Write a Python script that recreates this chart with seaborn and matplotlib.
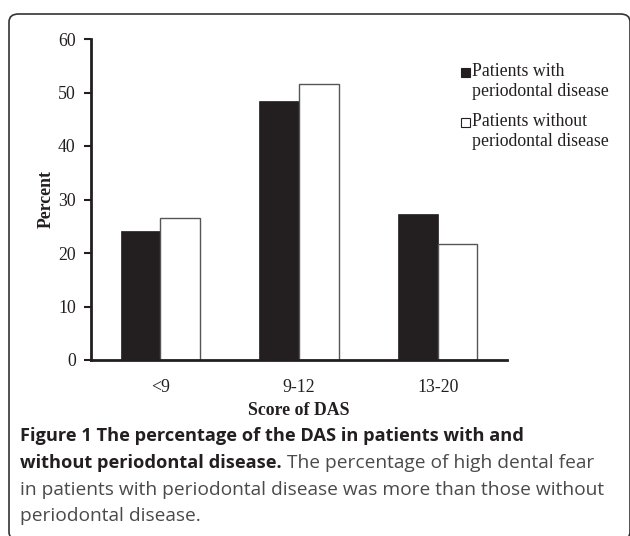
import matplotlib
matplotlib.use("Agg")
import matplotlib.pyplot as plt
import seaborn as sns
import pandas as pd
from matplotlib.patches import FancyBboxPatch, Rectangle

categories = ["<9", "9-12", "13-20"]
with_pd = [24.2, 48.4, 27.3]
without_pd = [26.6, 51.6, 21.7]
series_names = ["Patients with\nperiodontal disease", "Patients without\nperiodontal disease"]
yticks = [0, 10, 20, 30, 40, 50, 60]

df = pd.DataFrame({
    "cat": categories * 2,
    "val": with_pd + without_pd,
    "grp": [series_names[0]] * 3 + [series_names[1]] * 3,
})

sns.set_style("white")
plt.rcParams["font.family"] = ["Liberation Serif", "DejaVu Serif"]

W, H = 630, 536
fig = plt.figure(figsize=(W / 100, H / 100), dpi=100)
ax = fig.add_axes([91 / W, 1 - 360 / H, 416 / W, 321 / H])

dark = "#231f20"
sns.barplot(data=df, x="cat", y="val", hue="grp", order=categories,
            hue_order=series_names, palette=[dark, "white"], width=0.57,
            ax=ax, legend=False, saturation=1)
for i, p in enumerate(ax.patches):
    if i < 3:
        p.set_edgecolor(dark)
        p.set_linewidth(0.5)
    else:
        p.set_edgecolor("#555555")
        p.set_linewidth(1.0)

fs = 12.8
ax.set_ylim(0, 60)
ax.set_xlim(-0.5, 2.5)
ax.set_yticks(yticks)
ax.set_yticklabels([str(t) for t in yticks], fontsize=fs, color="#231f20")
ax.tick_params(axis="y", direction="out", length=5, width=1.5, color=dark, pad=6, left=True)
ax.tick_params(axis="x", length=0, pad=14, labelsize=fs, labelcolor="#231f20")
for s in ["top", "right"]:
    ax.spines[s].set_visible(False)
ax.spines["left"].set_linewidth(2)
ax.spines["bottom"].set_linewidth(2)
ax.spines["left"].set_color(dark)
ax.spines["bottom"].set_color(dark)
ax.set_xlabel("Score of DAS", fontsize=fs, fontweight="bold", color=dark, labelpad=4)
ax.set_ylabel("Percent", fontsize=fs, fontweight="bold", color=dark, labelpad=2)

# Legend (manual)
leg = [(72, 91, dark, dark), (122, 141, "white", dark)]
for (y1, y2, fc, ec), name in zip(leg, series_names):
    l1, l2 = name.split("\n")
    fig.patches.append(Rectangle((461 / W, 1 - (y1 + 4.5) / H), 9 / W, 9 / H,
                                 transform=fig.transFigure, facecolor=fc,
                                 edgecolor=ec, linewidth=0.8))
    fig.text(472 / W, 1 - y1 / H, l1, fontsize=fs, va="center", color=dark)
    fig.text(472 / W, 1 - y2 / H, l2, fontsize=fs, va="center", color=dark)

# Frame
fig.patches.append(FancyBboxPatch((9 / W, -4 / H), 621 / W, (536 - 14 + 4) / H,
                                  boxstyle="round,pad=0,rounding_size=0.015",
                                  transform=fig.transFigure, facecolor="none",
                                  edgecolor="#333333", linewidth=1.2, clip_on=False))

# Caption
cap_font = ["Open Sans", "DejaVu Sans"]
fig.canvas.draw()
r = fig.canvas.get_renderer()
x0 = 20 / W
fb, fr = 13.15, 13.8
t1 = fig.text(x0, 1 - 436 / H, "Figure 1 The percentage of the DAS in patients with and",
              fontsize=fb, fontweight="bold", family=cap_font, va="center", color="#231f20")
t2 = fig.text(x0, 1 - 463 / H, "without periodontal disease.",
              fontsize=fb, fontweight="bold", family=cap_font, va="center", color="#231f20")
bb = t2.get_window_extent(renderer=r)
fig.text(bb.x1 / W + 5 / W, 1 - 463 / H, "The percentage of high dental fear",
         fontsize=fr, family=cap_font, va="center", color="#4a4a4a")
fig.text(x0, 1 - 490 / H, "in patients with periodontal disease was more than those without",
         fontsize=fr, family=cap_font, va="center", color="#4a4a4a")
fig.text(x0, 1 - 516 / H, "periodontal disease.",
         fontsize=fr, family=cap_font, va="center", color="#4a4a4a")

fig.savefig("out.png", dpi=100)
